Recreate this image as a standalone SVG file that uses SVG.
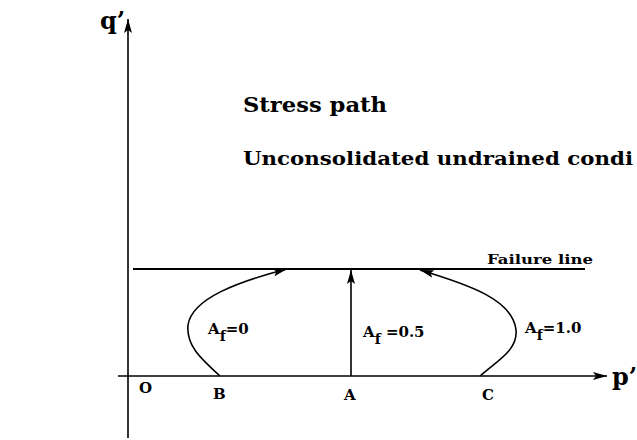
<svg xmlns="http://www.w3.org/2000/svg" width="637" height="440" viewBox="0 0 637 440">
<style>
.ax{stroke:#000;stroke-width:1.6;fill:none}
.fl{stroke:#000;stroke-width:2;fill:none}
.t{font-family:"DejaVu Serif","Liberation Serif",serif;font-weight:bold;fill:#000}
</style>
<defs>
<marker id="ah" viewBox="0 0 14 8" refX="14" refY="4" markerWidth="14" markerHeight="8" markerUnits="userSpaceOnUse" orient="auto">
<path d="M0,0 L14,4 L0,8 L3,4 Z" fill="#000"/>
</marker>
</defs>
<rect width="637" height="440" fill="#fff"/>
<g id="axes">
<line class="ax" x1="128" y1="438" x2="128" y2="19" marker-end="url(#ah)"/>
<line class="ax" x1="118" y1="376" x2="607" y2="376" marker-end="url(#ah)"/>
</g>
<g id="failure-line">
<line class="fl" x1="133" y1="269" x2="585" y2="269"/>
<text class="t" x="487" y="264" font-size="12" textLength="106" lengthAdjust="spacingAndGlyphs">Failure line</text>
</g>
<g id="connectors">
<path class="ax" d="M220,376 C200,358 186,345 188,325 C192,298 240,281 287,269" marker-end="url(#ah)"/>
<line class="ax" x1="351" y1="376" x2="351" y2="270" marker-end="url(#ah)"/>
<path class="ax" d="M480,376 C498,360 518,350 516,330 C513,300 470,285 420,270" marker-end="url(#ah)"/>
</g>
<g id="labels">
<text class="t" x="100" y="29" font-size="24">q’</text>
<text class="t" x="612" y="385" font-size="24">p’</text>
<text class="t" x="139" y="393" font-size="15">O</text>
<text class="t" x="213" y="399" font-size="15">B</text>
<text class="t" x="344" y="400" font-size="15">A</text>
<text class="t" x="482" y="400" font-size="15">C</text>
<text class="t" x="208" y="334" font-size="15">A<tspan font-size="14" dy="7">f</tspan><tspan dy="-7">=0</tspan></text>
<text class="t" x="363" y="337" font-size="15">A<tspan font-size="14" dy="7">f</tspan><tspan dy="-7"> =0.5</tspan></text>
<text class="t" x="525" y="333" font-size="15">A<tspan font-size="14" dy="7">f</tspan><tspan dy="-7">=1.0</tspan></text>
<text class="t" x="243" y="112" font-size="21" textLength="144" lengthAdjust="spacingAndGlyphs">Stress path</text>
<text class="t" x="243" y="165" font-size="19" textLength="390" lengthAdjust="spacingAndGlyphs">Unconsolidated undrained condi</text>
</g>
</svg>
